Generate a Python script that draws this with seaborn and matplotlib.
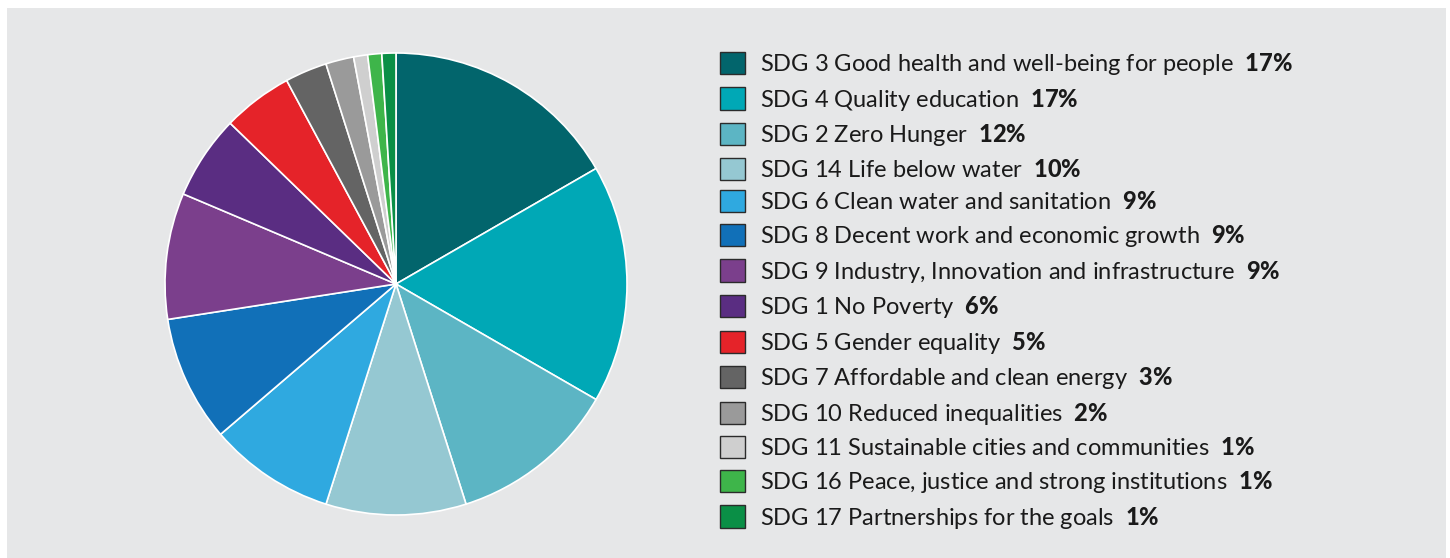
import matplotlib.pyplot as plt
import seaborn as sns
from matplotlib.patches import Patch, Rectangle

# SDG share data, in the order drawn (clockwise from 12 o'clock)
goals = [
    "SDG 3 Good health and well-being for people",
    "SDG 4 Quality education",
    "SDG 2 Zero Hunger",
    "SDG 14 Life below water",
    "SDG 6 Clean water and sanitation",
    "SDG 8 Decent work and economic growth",
    "SDG 9 Industry, Innovation and infrastructure",
    "SDG 1 No Poverty",
    "SDG 5 Gender equality",
    "SDG 7 Affordable and clean energy",
    "SDG 10 Reduced inequalities",
    "SDG 11 Sustainable cities and communities",
    "SDG 16 Peace, justice and strong institutions",
    "SDG 17 Partnerships for the goals",
]
shares = [17, 17, 12, 10, 9, 9, 9, 6, 5, 3, 2, 1, 1, 1]
colors = [
    "#02656c", "#00a8b6", "#5cb5c4", "#95c8d2", "#2fa9e0", "#1170b8",
    "#7b3f8c", "#5a2d82", "#e52329", "#646464", "#9a9a9a", "#cfcfcf",
    "#3eb54a", "#0a8f46",
]

sns.set_theme(style="white")
plt.rcParams["font.family"] = ["Lato", "DejaVu Sans"]
plt.rcParams["mathtext.fontset"] = "custom"
plt.rcParams["mathtext.bf"] = "Lato:black"
plt.rcParams["mathtext.rm"] = "Lato"

W, H = 1450, 558
fig = plt.figure(figsize=(W / 100, H / 100), dpi=100)
fig.patch.set_facecolor("white")
fig.patches.append(Rectangle((7 / W, 0), (1446 - 7) / W, (558 - 8) / H,
                             transform=fig.transFigure, facecolor="#e6e7e8",
                             edgecolor="none", zorder=-1))

# pie axes
cx, cy, r = 396, 284, 231
ax = fig.add_axes([(cx - r) / W, (H - cy - r) / H, 2 * r / W, 2 * r / H])
ax.pie(shares, colors=colors, startangle=90, counterclock=False,
       wedgeprops=dict(edgecolor="white", linewidth=1.2))
ax.set_xlim(-1, 1)
ax.set_ylim(-1, 1)
ax.set_aspect("equal")
ax.axis("off")

labels = [f"{g}  $\\mathbf{{{s}\\%}}$" for g, s in zip(goals, shares)]
handles = [Patch(facecolor=c, edgecolor="#2b2b2b", linewidth=1.0) for c in colors]
fig.legend(handles, labels, loc="upper left", bbox_to_anchor=(720 / W, 1 - 51 / H),
           frameon=False, fontsize=17, handlelength=1.06, handleheight=1.06,
           labelspacing=0.405, handletextpad=0.62, borderaxespad=0, borderpad=0,
           labelcolor="#1a1a1a")

fig.savefig("out.png", dpi=100, facecolor=fig.get_facecolor())
